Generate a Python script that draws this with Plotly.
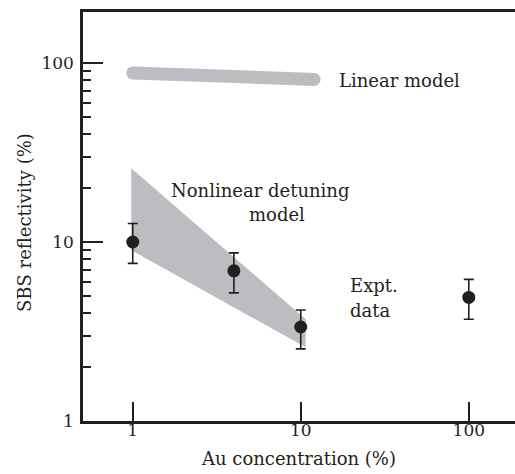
import plotly.graph_objects as go

# ---- data ----
expt_conc = [1, 4, 10, 100]
expt_refl = [10, 6.9, 3.35, 4.9]
expt_hi = [12.7, 8.7, 4.17, 6.18]
expt_lo = [7.6, 5.2, 2.53, 3.7]

linear_conc = [1.0, 12.0]
linear_refl = [88, 81]

band_conc = [0.98, 10.7, 10.7, 0.98]
band_refl = [25.8, 3.7, 2.58, 9.0]

x_tick_vals = [1, 10, 100]
x_tick_text = ["1", "10", "100"]
y_tick_vals = [1, 10, 100]
y_tick_text = ["1", "10", "100"]
y_minor_vals = [2, 3, 4, 5, 6, 7, 8, 9, 20, 30, 40, 50, 60, 70, 80, 90]

INK = "#231f20"
GREY = "#bcbdc0"
FONT = "DejaVu Serif"

err_plus = [h - v for h, v in zip(expt_hi, expt_refl)]
err_minus = [v - l for v, l in zip(expt_refl, expt_lo)]

fig = go.Figure()

# nonlinear detuning band
fig.add_trace(go.Scatter(
    x=band_conc + [band_conc[0]], y=band_refl + [band_refl[0]],
    mode="lines", fill="toself", fillcolor=GREY,
    line=dict(width=0, color=GREY), hoverinfo="skip"))

# linear model thick line with round ends
fig.add_trace(go.Scatter(
    x=linear_conc, y=linear_refl, mode="lines+markers",
    line=dict(color=GREY, width=13),
    marker=dict(color=GREY, size=13, line=dict(width=0)),
    hoverinfo="skip"))

# experimental data
fig.add_trace(go.Scatter(
    x=expt_conc, y=expt_refl, mode="markers",
    marker=dict(color=INK, size=13),
    error_y=dict(type="data", symmetric=False, array=err_plus,
                 arrayminus=err_minus, color=INK, thickness=1.6, width=5)))

x0, x1 = -0.296, 2.275
y0, y1 = 0.0, 2.285

fig.update_layout(
    width=515, height=474,
    margin=dict(l=83, r=0, t=12, b=53),
    paper_bgcolor="white", plot_bgcolor="white",
    showlegend=False,
    font=dict(family=FONT, size=17, color=INK),
    xaxis=dict(
        type="log", range=[x0, x1],
        showgrid=False, zeroline=False,
        showline=True, linecolor=INK, linewidth=2.5, mirror=True,
        ticks="inside", ticklen=19, tickwidth=1.8, tickcolor=INK,
        tickvals=x_tick_vals, ticktext=x_tick_text,
        tickfont=dict(family=FONT, size=17, color=INK),
        ticklabelstandoff=-8,
        title=dict(text="Au concentration (%)",
                   font=dict(family=FONT, size=18, color=INK), standoff=14),
    ),
    yaxis=dict(
        type="log", range=[y0, y1],
        showgrid=False, zeroline=False,
        showline=True, linecolor=INK, linewidth=2.5, mirror=False,
        ticks="inside", ticklen=20, tickwidth=1.8, tickcolor=INK,
        tickvals=y_tick_vals, ticktext=y_tick_text,
        tickfont=dict(family=FONT, size=17, color=INK),
        ticklabelstandoff=3,
        minor=dict(ticks="inside", ticklen=8, tickwidth=1.6, tickcolor=INK,
                   tickvals=y_minor_vals, showgrid=False),
    ),
)

def px_to_paper(px, py):
    return (px - 83) / 432, (421 - py) / 409

annots = [
    ("Linear model", 337, 81, "left"),
    ("Nonlinear detuning", 260, 190, "center"),
    ("model", 277, 214, "center"),
    ("Expt.", 348, 285, "left"),
    ("data", 348, 310, "left"),
]
for text, px, py, anchor in annots:
    ax, ay = px_to_paper(px, py)
    fig.add_annotation(text=text, x=ax, y=ay, xref="paper", yref="paper",
                       xanchor=anchor, yanchor="middle", showarrow=False,
                       font=dict(family=FONT, size=18, color=INK))

tx, ty = px_to_paper(24, 223)
fig.add_annotation(text="SBS reflectivity (%)", x=tx, y=ty, xref="paper",
                   yref="paper", xanchor="center", yanchor="middle",
                   textangle=-90, showarrow=False,
                   font=dict(family=FONT, size=18, color=INK))

fig.write_html("out.html")
